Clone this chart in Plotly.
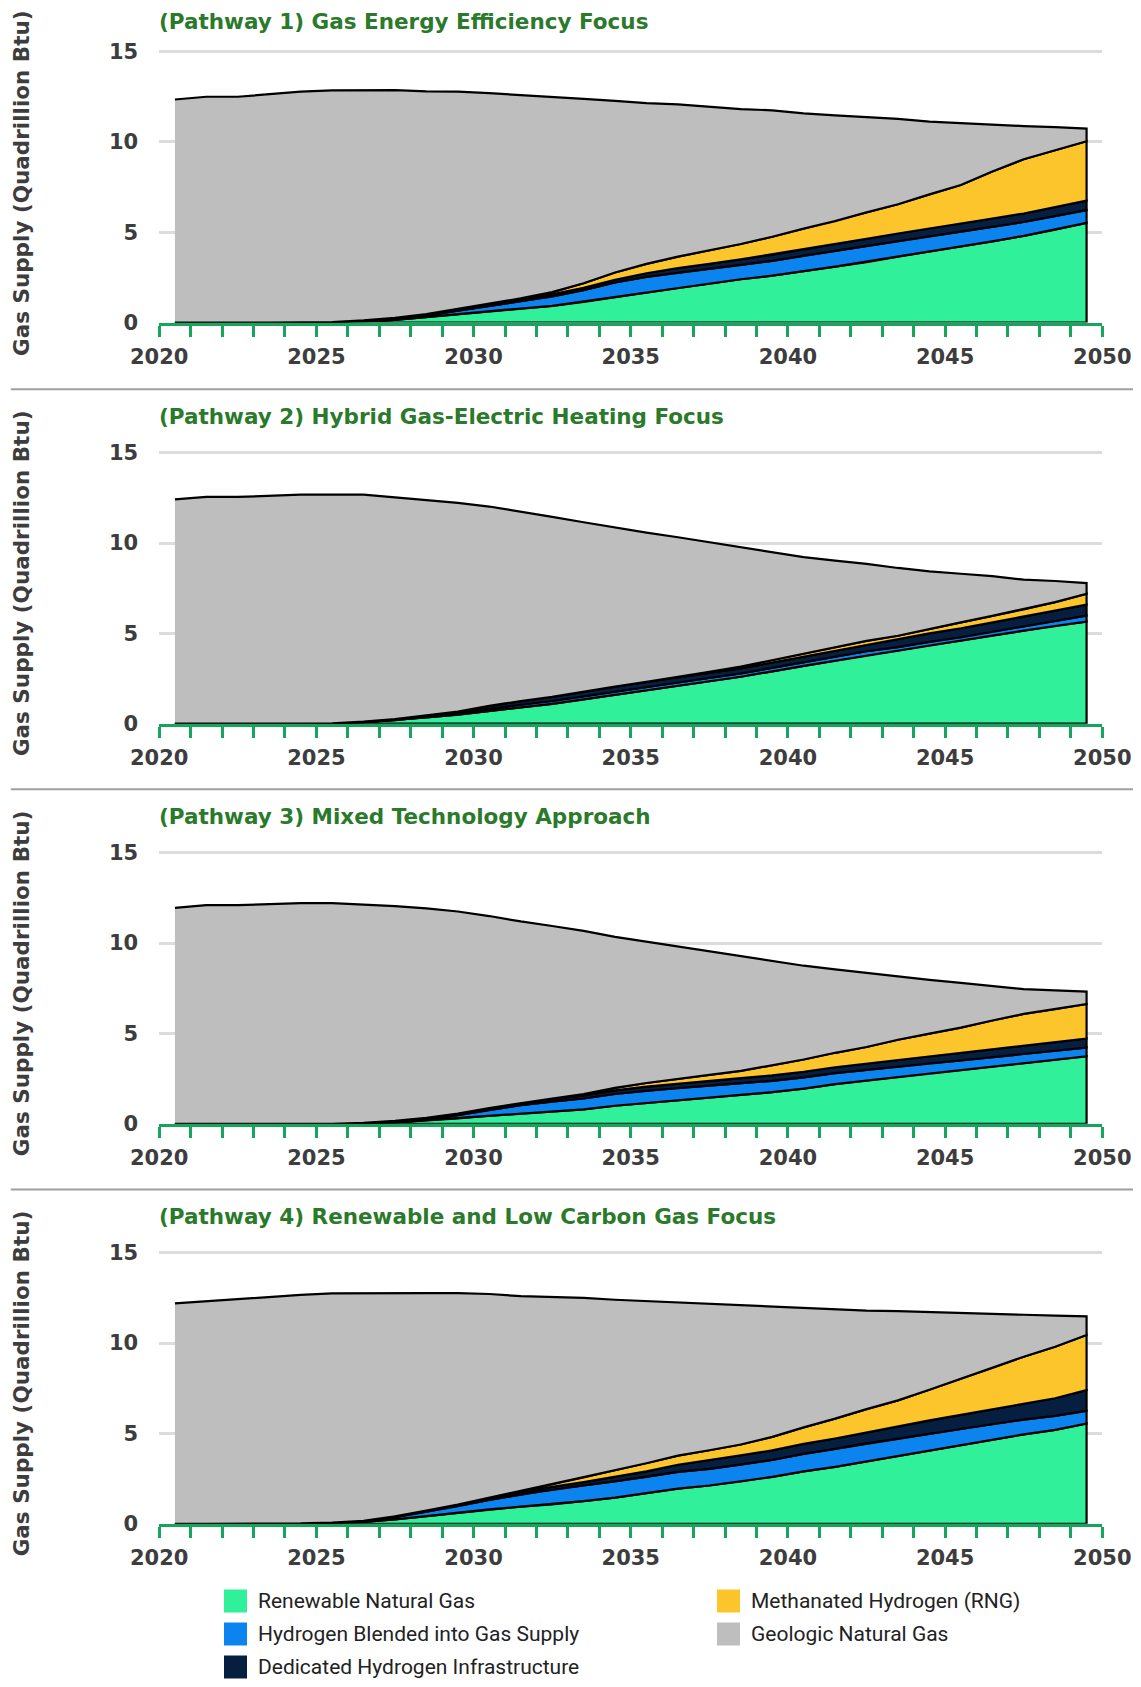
import plotly.graph_objects as go

# ---------------- data (Quadrillion Btu), one value per year -----------------
years = list(range(2021, 2051))          # plotted at mid-year (category centred)
x_tick_years = list(range(2020, 2051))
x_labels = [str(y) if y % 5 == 0 else "" for y in x_tick_years]
y_ticks = [0, 5, 10, 15]

series_names = ["Renewable Natural Gas", "Hydrogen Blended into Gas Supply",
                "Dedicated Hydrogen Infrastructure", "Methanated Hydrogen (RNG)",
                "Geologic Natural Gas"]
series_colors = ["#30F09A", "#0B84F0", "#061E40", "#FDC52C", "#BDBEBD"]

panel_titles = ["(Pathway 1) Gas Energy Efficiency Focus",
                "(Pathway 2) Hybrid Gas-Electric Heating Focus",
                "(Pathway 3) Mixed Technology Approach",
                "(Pathway 4) Renewable and Low Carbon Gas Focus"]

# Pathway 1
p1_rng = [0, 0, 0, 0, 0, 0.02, 0.07, 0.15, 0.3, 0.45, 0.62, 0.78, 0.93, 1.15, 1.42,
          1.68, 1.92, 2.15, 2.4, 2.6, 2.85, 3.1, 3.35, 3.65, 3.95, 4.22, 4.5, 4.8, 5.15, 5.52]
p1_blend = [0, 0, 0, 0, 0, 0.01, 0.03, 0.06, 0.1, 0.2, 0.3, 0.4, 0.52, 0.65, 0.8,
            0.85, 0.85, 0.82, 0.8, 0.82, 0.85, 0.87, 0.88, 0.86, 0.84, 0.82, 0.8, 0.77, 0.74, 0.71]
p1_dedicated = [0, 0, 0, 0, 0, 0, 0.02, 0.05, 0.07, 0.08, 0.1, 0.11, 0.12, 0.13, 0.15,
                0.2, 0.25, 0.28, 0.3, 0.33, 0.35, 0.38, 0.4, 0.42, 0.44, 0.45, 0.46, 0.47, 0.5, 0.52]
p1_methanated = [0, 0, 0, 0, 0, 0, 0, 0, 0, 0, 0.02, 0.05, 0.12, 0.25, 0.4,
                 0.52, 0.63, 0.75, 0.85, 1.0, 1.15, 1.27, 1.47, 1.62, 1.87, 2.13, 2.6, 3.0, 3.15, 3.29]
p1_total = [12.35, 12.5, 12.5, 12.65, 12.78, 12.85, 12.87, 12.87, 12.8, 12.78, 12.7, 12.58,
            12.5, 12.38, 12.27, 12.15, 12.08, 11.95, 11.82, 11.75, 11.58, 11.47, 11.38, 11.28,
            11.12, 11.03, 10.97, 10.88, 10.82, 10.74]

# Pathway 2
p2_rng = [0, 0, 0, 0, 0, 0.02, 0.08, 0.2, 0.35, 0.5, 0.7, 0.9, 1.1, 1.35, 1.6,
          1.85, 2.1, 2.35, 2.6, 2.9, 3.2, 3.5, 3.8, 4.05, 4.35, 4.6, 4.88, 5.15, 5.42, 5.65]
p2_blend = [0, 0, 0, 0, 0, 0, 0, 0, 0.03, 0.07, 0.12, 0.15, 0.15, 0.17, 0.18,
            0.18, 0.18, 0.18, 0.18, 0.19, 0.2, 0.21, 0.21, 0.19, 0.18, 0.18, 0.19, 0.21, 0.25, 0.33]
p2_dedicated = [0, 0, 0, 0, 0, 0, 0.03, 0.06, 0.08, 0.1, 0.17, 0.2, 0.23, 0.25, 0.27,
                0.29, 0.3, 0.29, 0.28, 0.3, 0.31, 0.33, 0.38, 0.44, 0.47, 0.5, 0.53, 0.57, 0.59, 0.61]
p2_methanated = [0, 0, 0, 0, 0, 0, 0, 0, 0, 0, 0, 0, 0, 0, 0,
                 0, 0, 0.05, 0.1, 0.15, 0.17, 0.19, 0.19, 0.19, 0.25, 0.33, 0.37, 0.4, 0.47, 0.6]
p2_total = [12.42, 12.55, 12.55, 12.62, 12.68, 12.68, 12.68, 12.53, 12.38, 12.22, 12.02,
            11.75, 11.45, 11.15, 10.85, 10.58, 10.32, 10.05, 9.78, 9.5, 9.22, 9.03, 8.85,
            8.62, 8.43, 8.3, 8.17, 7.97, 7.9, 7.78]

# Pathway 3
p3_rng = [0, 0, 0, 0, 0, 0, 0.03, 0.08, 0.18, 0.3, 0.45, 0.58, 0.68, 0.8, 1.0,
          1.15, 1.3, 1.45, 1.6, 1.75, 1.95, 2.2, 2.4, 2.62, 2.8, 2.98, 3.17, 3.38, 3.55, 3.74]
p3_blend = [0, 0, 0, 0, 0, 0, 0, 0.03, 0.08, 0.18, 0.32, 0.45, 0.55, 0.6, 0.65,
            0.68, 0.68, 0.66, 0.65, 0.63, 0.62, 0.6, 0.58, 0.56, 0.55, 0.53, 0.52, 0.5, 0.49, 0.48]
p3_dedicated = [0, 0, 0, 0, 0, 0, 0.02, 0.05, 0.07, 0.08, 0.1, 0.12, 0.14, 0.17, 0.2,
                0.23, 0.25, 0.27, 0.28, 0.3, 0.31, 0.33, 0.35, 0.37, 0.39, 0.41, 0.43, 0.45, 0.48, 0.5]
p3_methanated = [0, 0, 0, 0, 0, 0, 0, 0, 0, 0, 0, 0, 0.03, 0.08, 0.14,
                 0.2, 0.27, 0.33, 0.4, 0.55, 0.68, 0.8, 0.92, 1.1, 1.25, 1.4, 1.6, 1.75, 1.83, 1.91]
p3_total = [11.95, 12.1, 12.1, 12.17, 12.22, 12.22, 12.15, 12.05, 11.92, 11.75, 11.5, 11.2,
            10.95, 10.68, 10.35, 10.08, 9.8, 9.55, 9.25, 8.98, 8.75, 8.55, 8.35, 8.17, 7.97,
            7.8, 7.62, 7.45, 7.38, 7.32]

# Pathway 4
p4_rng = [0, 0, 0, 0, 0.02, 0.05, 0.1, 0.25, 0.42, 0.6, 0.8, 0.95, 1.08, 1.25, 1.45,
          1.7, 1.95, 2.12, 2.35, 2.6, 2.9, 3.15, 3.45, 3.75, 4.05, 4.35, 4.65, 4.95, 5.2, 5.55]
p4_blend = [0, 0, 0, 0, 0, 0.02, 0.05, 0.12, 0.25, 0.38, 0.52, 0.68, 0.82, 0.88, 0.9,
            0.9, 0.92, 0.92, 0.92, 0.93, 0.97, 1.0, 1.0, 0.95, 0.93, 0.9, 0.86, 0.82, 0.77, 0.7]
p4_dedicated = [0, 0, 0, 0, 0, 0, 0.02, 0.04, 0.06, 0.08, 0.1, 0.12, 0.14, 0.18, 0.24,
                0.3, 0.4, 0.48, 0.52, 0.53, 0.55, 0.57, 0.6, 0.68, 0.74, 0.78, 0.82, 0.86, 0.98, 1.15]
p4_methanated = [0, 0, 0, 0, 0, 0, 0, 0, 0, 0, 0.02, 0.06, 0.14, 0.25, 0.38,
                 0.45, 0.5, 0.55, 0.6, 0.75, 0.92, 1.1, 1.3, 1.45, 1.7, 2.0, 2.3, 2.62, 2.85, 3.05]
p4_total = [12.2, 12.32, 12.45, 12.57, 12.67, 12.75, 12.77, 12.77, 12.77, 12.77, 12.72, 12.6,
            12.55, 12.5, 12.4, 12.32, 12.25, 12.16, 12.1, 12.0, 11.92, 11.85, 11.8, 11.77,
            11.73, 11.68, 11.62, 11.57, 11.52, 11.48]

panels = [
    (p1_rng, p1_blend, p1_dedicated, p1_methanated, p1_total),
    (p2_rng, p2_blend, p2_dedicated, p2_methanated, p2_total),
    (p3_rng, p3_blend, p3_dedicated, p3_methanated, p3_total),
    (p4_rng, p4_blend, p4_dedicated, p4_methanated, p4_total),
]

# ---------------- layout geometry (page pixels) -----------------
PAGE_W, PAGE_H = 1141, 1687
BODY_MARGIN = 8                              # default browser body margin
W, H = PAGE_W - 2 * BODY_MARGIN, PAGE_H - 2 * BODY_MARGIN
X0_PX, X1_PX = 159.2, 1102.3               # 2020 .. 2050
ZERO_PX = [322.6, 723.7, 1123.8, 1523.8]     # y=0 line of each panel
TITLE_PX = [21, 416.1, 816.2, 1216.3]        # title centre of each panel
PX_PER_UNIT = 271.0 / 15
Y_MAX = 15.5
SEP_PX = [389.3, 789.3, 1189.4]

GREEN_AXIS = "#17A45B"
TITLE_GREEN = "#2B7A2B"
TEXT_GRAY = "#3D3D3D"

def py(px):
    return 1 - (px - BODY_MARGIN) / H

def pxx(px):
    return (px - BODY_MARGIN) / W

fig = go.Figure()
x_mid = [y - 0.5 for y in years]

layout_axes = {}
annotations = []
shapes = []

for k, series in enumerate(panels):
    rng, blend, ded, meth, total = series
    geo = [t - (a + b + c + d) for t, a, b, c, d in zip(total, rng, blend, ded, meth)]
    layers = [rng, blend, ded, meth, geo]
    xa = "x" if k == 0 else f"x{k+1}"
    ya = "y" if k == 0 else f"y{k+1}"
    lower = [0.0] * len(years)
    for name, col, vals in zip(series_names, series_colors, layers):
        upper = [l + v for l, v in zip(lower, vals)]
        fig.add_trace(go.Scatter(
            x=x_mid + x_mid[::-1], y=upper + lower[::-1],
            fill="toself", fillcolor=col, mode="lines",
            line=dict(color="#000000", width=2.2),
            name=name, showlegend=False, xaxis=xa, yaxis=ya, hoverinfo="skip"))
        lower = upper

    bottom = ZERO_PX[k]
    top = bottom - Y_MAX * PX_PER_UNIT
    xkey = "xaxis" if k == 0 else f"xaxis{k+1}"
    ykey = "yaxis" if k == 0 else f"yaxis{k+1}"
    layout_axes[xkey] = dict(
        domain=[pxx(X0_PX), pxx(X1_PX)], range=[2020, 2050], anchor=ya,
        automargin=False,
        showline=True, linecolor=GREEN_AXIS, linewidth=3,
        ticks="outside", tickcolor=GREEN_AXIS, ticklen=11, tickwidth=2.5,
        tickvals=x_tick_years, ticktext=x_labels, ticklabelstandoff=2,
        tickfont=dict(family="DejaVu Sans", size=21, color=TEXT_GRAY, weight="bold"),
        showgrid=False, zeroline=False, fixedrange=True)
    layout_axes[ykey] = dict(
        domain=[py(bottom), py(top)], range=[0, Y_MAX], anchor=xa,
        automargin=False,
        tickvals=y_ticks, ticks="", showline=False, zeroline=False,
        showgrid=True, gridcolor="#DCDCDC", gridwidth=2.5,
        ticklabelstandoff=20,
        tickfont=dict(family="DejaVu Sans", size=21, color=TEXT_GRAY, weight="bold"),
        fixedrange=True)

    # panel title
    annotations.append(dict(
        text=panel_titles[k], xref="paper", yref="paper",
        x=pxx(X0_PX - 2), y=py(TITLE_PX[k]), xanchor="left", yanchor="middle",
        showarrow=False,
        font=dict(family="DejaVu Sans", size=21.5, color=TITLE_GREEN, weight="bold")))
    # y axis title
    annotations.append(dict(
        text="Gas Supply (Quadrillion Btu)", xref="paper", yref="paper",
        x=pxx(21), y=py(183 + 400.1 * k), xanchor="center", yanchor="middle",
        textangle=-90, showarrow=False,
        font=dict(family="DejaVu Sans", size=21.5, color=TEXT_GRAY, weight="bold")))

for s in SEP_PX:
    shapes.append(dict(type="line", xref="paper", yref="paper",
                       x0=pxx(10.8), x1=1, y0=py(s), y1=py(s),
                       line=dict(color="#A0A0A0", width=2)))

# ---------------- legend (manual, two columns) -----------------
legend_cols = [[0, 1, 2], [3, 4]]
col_swatch_px = [224, 717]
row_center_px = [1601.0, 1634.0, 1667.0]
SW = 23
for ci, items in enumerate(legend_cols):
    for ri, idx in enumerate(items):
        cx = col_swatch_px[ci]
        cy = row_center_px[ri]
        shapes.append(dict(type="rect", xref="paper", yref="paper",
                           x0=pxx(cx), x1=pxx(cx + SW),
                           y0=py(cy + SW / 2), y1=py(cy - SW / 2),
                           fillcolor=series_colors[idx], line=dict(width=0)))
        annotations.append(dict(
            text=series_names[idx], xref="paper", yref="paper",
            x=pxx(cx + SW + 9), y=py(cy), xanchor="left", yanchor="middle",
            showarrow=False,
            font=dict(family="Roboto", size=21, color="#222222")))

fig.update_layout(
    width=W, height=H, margin=dict(l=0, r=0, t=0, b=0, pad=0, autoexpand=False),
    paper_bgcolor="white", plot_bgcolor="white",
    showlegend=False, annotations=annotations, shapes=shapes,
    **layout_axes)

fig.write_html("out.html")
